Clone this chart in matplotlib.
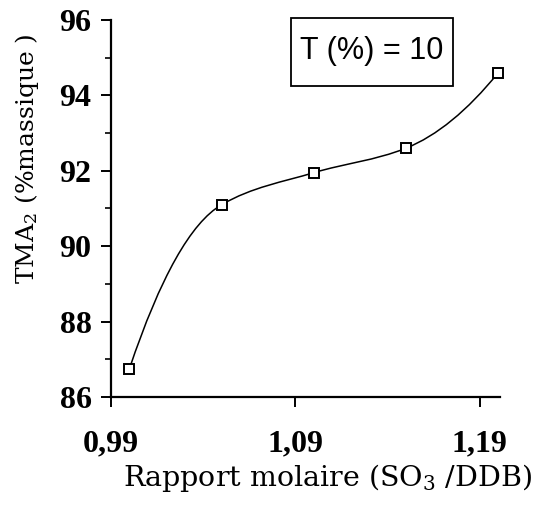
import matplotlib
matplotlib.use('Agg')
import matplotlib.pyplot as plt
from matplotlib.path import Path
from matplotlib.patches import PathPatch, Rectangle
from matplotlib.ticker import FixedLocator, FixedFormatter, MultipleLocator

# data
ratio = [1.00, 1.05, 1.10, 1.15, 1.20]
tma2 = [86.75, 91.1, 91.95, 92.6, 94.6]
xticks = [0.99, 1.09, 1.19]
xticklabels = ['0,99', '1,09', '1,19']
yticks = [86, 88, 90, 92, 94, 96]

plt.rcParams['mathtext.fontset'] = 'dejavuserif'

W, H = 538, 507
fig = plt.figure(figsize=(W / 100, H / 100), dpi=100)
ax = fig.add_axes([111 / W, 1 - 397 / H, (500 - 111) / W, (397 - 20) / H])

# smooth curve through the points (hermite -> bezier, harmonic-mean slopes)
n = len(ratio)
sec = [(tma2[i + 1] - tma2[i]) / (ratio[i + 1] - ratio[i]) for i in range(n - 1)]
slopes = [0.0] * n
for i in range(1, n - 1):
    slopes[i] = 2 / (1 / sec[i - 1] + 1 / sec[i])
slopes[0] = 2 * sec[0] - slopes[1]
slopes[-1] = 2 * sec[-1] - slopes[-2]

verts = [(ratio[0], tma2[0])]
codes = [Path.MOVETO]
for i in range(n - 1):
    h = (ratio[i + 1] - ratio[i]) / 3
    verts += [(ratio[i] + h, tma2[i] + slopes[i] * h),
              (ratio[i + 1] - h, tma2[i + 1] - slopes[i + 1] * h),
              (ratio[i + 1], tma2[i + 1])]
    codes += [Path.CURVE4] * 3
ax.add_patch(PathPatch(Path(verts, codes), fill=False, lw=1.1, ec='black',
                       clip_on=False))

ax.plot(ratio, tma2, ls='none', marker='s', ms=7.5, mfc='white', mec='black',
        mew=1.4, clip_on=False, zorder=3)

ax.set_xlim(0.99, 1.201)
ax.set_ylim(86, 96)
for s in ['top', 'right']:
    ax.spines[s].set_visible(False)
for s in ['left', 'bottom']:
    ax.spines[s].set_linewidth(1.6)

ax.xaxis.set_major_locator(FixedLocator(xticks))
ax.xaxis.set_major_formatter(FixedFormatter(xticklabels))
ax.set_yticks(yticks)
ax.yaxis.set_minor_locator(MultipleLocator(1))
ax.tick_params(axis='both', which='major', direction='out', length=7,
               width=1.4, labelsize=23, pad=7)
ax.tick_params(axis='x', pad=16)
ax.tick_params(axis='y', which='minor', direction='out', length=4, width=1.2)
for lab in ax.get_xticklabels() + ax.get_yticklabels():
    lab.set_fontfamily('Liberation Serif')
    lab.set_fontweight('bold')

fig.text(328 / W, 1 - 478 / H, 'Rapport molaire (SO$_3$ /DDB)',
         family='DejaVu Serif', fontsize=20.5, ha='center', va='center')
fig.text(27 / W, 1 - 159 / H, 'TMA$_2$ (%massique )', family='DejaVu Serif',
         fontsize=18, ha='center', va='center', rotation=90)

fig.patches.append(Rectangle((291 / W, 1 - 86 / H), 162 / W, 68 / H,
                             transform=fig.transFigure, fill=False,
                             ec='black', lw=1.3))
fig.text(372 / W, 1 - 51 / H, 'T (%) = 10', family='Liberation Sans',
         fontsize=22, ha='center', va='center')

fig.savefig('out.png', dpi=100)
